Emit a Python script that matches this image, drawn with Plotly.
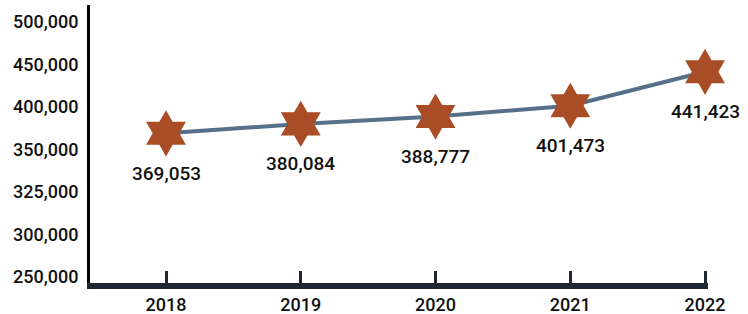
import plotly.graph_objects as go

years = ["2018", "2019", "2020", "2021", "2022"]
values = [369053, 380084, 388777, 401473, 441423]
value_labels = ["369,053", "380,084", "388,777", "401,473", "441,423"]
ytick_vals = [200000, 250000, 300000, 350000, 400000, 450000, 500000]
ytick_text = ["250,000", "300,000", "325,000", "350,000", "400,000", "450,000", "500,000"]

FONT = "Roboto, Liberation Sans, sans-serif"
xpos = list(range(len(years)))

fig = go.Figure()
fig.add_trace(go.Scatter(
    x=xpos, y=values,
    mode="lines+markers",
    line=dict(color="#56708a", width=4),
    marker=dict(symbol="hexagram", size=35, color="#a84d25", line=dict(width=0)),
    cliponaxis=False,
    hoverinfo="skip",
))

for xv, yv, lab in zip(xpos, values, value_labels):
    fig.add_annotation(
        x=xv, y=yv, text=lab, showarrow=False,
        yshift=-40, yanchor="middle", xanchor="center",
        font=dict(family=FONT, size=19, color="#111111", weight=500),
    )

fig.update_layout(
    width=748, height=314,
    margin=dict(l=90, r=40, t=5, b=31),
    paper_bgcolor="white", plot_bgcolor="white",
    showlegend=False,
    font=dict(family=FONT, size=18, color="#111111"),
)
fig.update_xaxes(
    range=[-0.564, 4.022],
    tickvals=xpos, ticktext=years,
    showgrid=False, zeroline=False,
    showline=True, linecolor="#1e2833", linewidth=6,
    ticks="inside", ticklen=12, tickwidth=3, tickcolor="#1e2833",
    tickfont=dict(family=FONT, size=18, color="#111111", weight=500),
    automargin=False,
)
fig.update_yaxes(
    range=[192900, 520000],
    tickvals=ytick_vals, ticktext=ytick_text,
    showgrid=False, zeroline=False,
    showline=True, linecolor="#000000", linewidth=3,
    ticks="", ticklabelstandoff=5,
    tickfont=dict(family=FONT, size=18, color="#111111", weight=500),
    automargin=False,
)

fig.write_html(
    "out.html",
    config={"displayModeBar": False, "staticPlot": True},
    post_script="document.body.style.margin='0';document.body.style.overflow='hidden';",
)
